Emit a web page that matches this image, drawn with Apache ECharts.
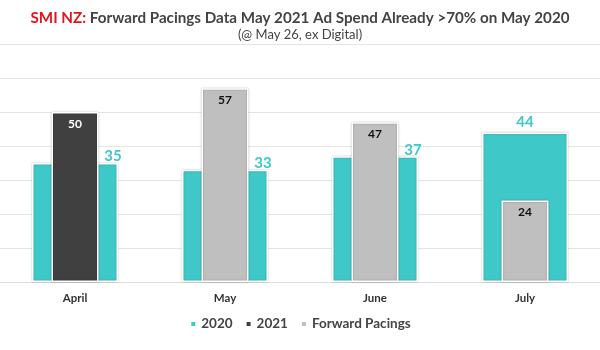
<!DOCTYPE html>
<html>
<head>
<meta charset="utf-8">
<script src="https://cdn.jsdelivr.net/npm/echarts@6/dist/echarts.min.js"></script>
<style>
  html, body { margin: 0; padding: 0; background: #fff; }
  #main { width: 600px; height: 350px; }
</style>
</head>
<body>
<div id="main"></div>
<script>
// data
const months = ["April", "May", "June", "July"];
const values2020 = [35, 33, 37, 44];
const values2021 = [50, "-", "-", "-"];
const valuesForward = ["-", 57, 47, 24];
const yTicks = { min: 0, max: 70, interval: 10 };

const teal = "#3ec9c8";
const dark = "#404040";
const grey = "#bfbfbf";
const font = "Lato";

let chart = echarts.init(document.getElementById("main"));

// 2020 labels sit at the top-right corner, except July which is centred
const data2020 = values2020.map((v, i) => {
  if (i === months.length - 1) return v;
  return { value: v, label: { position: "top", offset: [38, 4] } };
});

const barShadow = {
  borderColor: "#fff",
  borderWidth: 1.5,
  shadowColor: "rgba(0,0,0,0.25)",
  shadowBlur: 2,
};

chart.setOption({
  animation: false,
  title: [
    {
      text: "{red|SMI NZ:} Forward Pacings Data May 2021 Ad Spend Already >70% on May 2020",
      left: "center",
      top: 6,
      textStyle: {
        fontFamily: font,
        fontSize: 15.2,
        fontWeight: "bold",
        color: "#444",
        rich: {
          red: { fontFamily: font, fontSize: 15.2, fontWeight: "bold", color: "#e3131b" },
        },
      },
    },
    {
      text: "(@ May 26, ex Digital)",
      left: "center",
      top: 23,
      textStyle: { fontFamily: font, fontSize: 13, fontWeight: "normal", color: "#444" },
    },
  ],
  legend: {
    bottom: 14,
    left: "center",
    itemWidth: 6,
    itemHeight: 6,
    itemGap: 12,
    icon: "rect",
    data: ["2020", "2021", "Forward Pacings"],
    textStyle: { fontFamily: font, fontSize: 13.5, fontWeight: "bold", color: "#444" },
  },
  grid: { left: -3, right: -3, top: 44, bottom: 68 },
  xAxis: [
    {
      type: "category",
      data: months,
      axisTick: { show: false },
      axisLine: { lineStyle: { color: "#ddd" } },
      axisLabel: { fontFamily: font, fontSize: 11.5, fontWeight: "bold", color: "#333", margin: 10 },
    },
    {
      type: "category",
      data: months,
      show: false,
    },
  ],
  yAxis: {
    type: "value",
    min: yTicks.min,
    max: yTicks.max,
    interval: yTicks.interval,
    axisLabel: { show: false },
    splitLine: { lineStyle: { color: "#e4e4e4" } },
  },
  series: [
    {
      name: "2020",
      type: "bar",
      xAxisIndex: 0,
      barWidth: 86,
      data: data2020,
      itemStyle: Object.assign({ color: teal }, barShadow),
      label: {
        show: true,
        position: "top",
        distance: 3,
        color: teal,
        fontFamily: font,
        fontSize: 15,
        fontWeight: "bold",
      },
      z: 1,
    },
    {
      name: "2021",
      type: "bar",
      xAxisIndex: 1,
      stack: "front",
      barWidth: 47,
      data: values2021,
      itemStyle: Object.assign({ color: dark }, barShadow),
      label: {
        show: true,
        position: "insideTop",
        distance: 6,
        color: "#fff",
        fontFamily: font,
        fontSize: 12,
        fontWeight: "bold",
      },
      z: 3,
    },
    {
      name: "Forward Pacings",
      type: "bar",
      xAxisIndex: 1,
      stack: "front",
      barWidth: 47,
      data: valuesForward,
      itemStyle: Object.assign({ color: grey }, barShadow),
      label: {
        show: true,
        position: "insideTop",
        distance: 6,
        color: "#111",
        fontFamily: font,
        fontSize: 12,
        fontWeight: "bold",
      },
      z: 3,
    },
  ],
});
</script>
</body>
</html>
